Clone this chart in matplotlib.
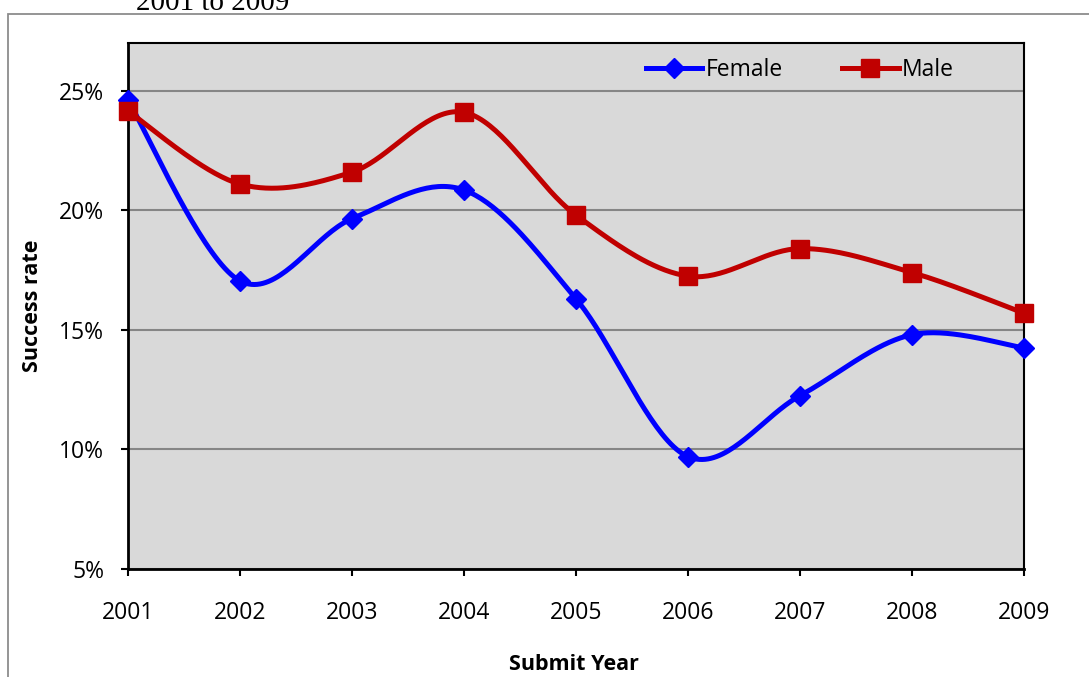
import numpy as np
import matplotlib
matplotlib.use("Agg")
import matplotlib.pyplot as plt
from matplotlib.patches import Rectangle
from matplotlib.ticker import FuncFormatter

years = [2001, 2002, 2003, 2004, 2005, 2006, 2007, 2008, 2009]
female = [24.6, 17.05, 19.65, 20.85, 16.3, 9.7, 12.25, 14.8, 14.25]
male = [24.15, 21.1, 21.6, 24.1, 19.8, 17.25, 18.4, 17.4, 15.7]
yticks = [5, 10, 15, 20, 25]

plt.rcParams['font.family'] = ['Open Sans', 'DejaVu Sans']


def smooth(x, y, n=40):
    # excel-like smoothing: bezier through points, catmull-rom control points
    x = np.asarray(x, float)
    y = np.asarray(y, float)
    px = np.concatenate([[x[0]], x, [x[-1]]])
    py = np.concatenate([[y[0]], y, [y[-1]]])
    t = np.linspace(0, 1, n)[:, None]
    xs, ys = [], []
    for i in range(len(x) - 1):
        p0 = np.array([x[i], y[i]])
        p3 = np.array([x[i + 1], y[i + 1]])
        p1 = p0 + (np.array([px[i + 2], py[i + 2]]) - np.array([px[i], py[i]])) / 6
        p2 = p3 - (np.array([px[i + 3], py[i + 3]]) - np.array([px[i + 1], py[i + 1]])) / 6
        b = (1 - t) ** 3 * p0 + 3 * (1 - t) ** 2 * t * p1 + 3 * (1 - t) * t ** 2 * p2 + t ** 3 * p3
        xs.append(b[:, 0])
        ys.append(b[:, 1])
    return np.concatenate(xs), np.concatenate(ys)


fig = plt.figure(figsize=(10.89, 6.77), dpi=100)
ax = fig.add_axes([128 / 1089, 1 - 569 / 677, 896 / 1089, 526 / 677])
ax.set_facecolor('#d9d9d9')

# outer chart frame
fig.add_artist(Rectangle((8 / 1089, -0.1), 1.2, 1.1 - 14 / 677, transform=fig.transFigure,
                         fill=False, ec='#8c8c8c', lw=1.3))
fig.text(213 / 1089, 1 - 10 / 677, "2001 to 2009", family='Liberation Serif', fontsize=21,
         ha='center', va='baseline')

for vals, col, mk, ms, name in [(female, '#0000ff', 'D', 10.5, 'Female'),
                                (male, '#c00000', 's', 13, 'Male')]:
    sx, sy = smooth(years, vals)
    ax.plot(sx, sy, color=col, lw=3.6, zorder=3, clip_on=False, solid_capstyle='round')
    ax.plot(years, vals, linestyle='none', marker=mk, ms=ms, color=col, mec=col, mew=1,
            zorder=4, clip_on=False)
    ax.plot([], [], color=col, lw=3.6, marker=mk, ms=ms, mec=col, label=name)

ax.set_xlim(2001, 2009)
ax.set_ylim(5, 27)
ax.set_xticks(years)
ax.set_yticks(yticks)
ax.yaxis.set_major_formatter(FuncFormatter(lambda v, p: "%d%%" % v))
ax.grid(axis='y', color='#868686', lw=1.5)
ax.set_axisbelow(True)
for s in ax.spines.values():
    s.set_color('black')
    s.set_linewidth(1.5)
ax.spines['left'].set_linewidth(2)
ax.spines['bottom'].set_linewidth(2)
ax.tick_params(axis='both', length=5, width=1.5, labelsize=16.5)
ax.tick_params(axis='x', pad=18)
ax.tick_params(axis='y', pad=12)

ax.set_xlabel("Submit Year", fontsize=15.5, fontweight='bold', va='center')
ax.set_ylabel("Success rate", fontsize=15.5, fontweight='bold', va='center')
ax.xaxis.set_label_coords(0.5 - 2.5 / 896, (569 - 665) / 526)
ax.yaxis.set_label_coords((33 - 128) / 896, 0.5)

ax.legend(loc='center left', bbox_to_anchor=(646 / 1089, 1 - 70 / 677),
          bbox_transform=fig.transFigure, ncol=2, frameon=False, fontsize=16.5,
          borderpad=0, borderaxespad=0, handlelength=2.45, handletextpad=0.15,
          columnspacing=2.6)

fig.savefig("out.png", dpi=100)
